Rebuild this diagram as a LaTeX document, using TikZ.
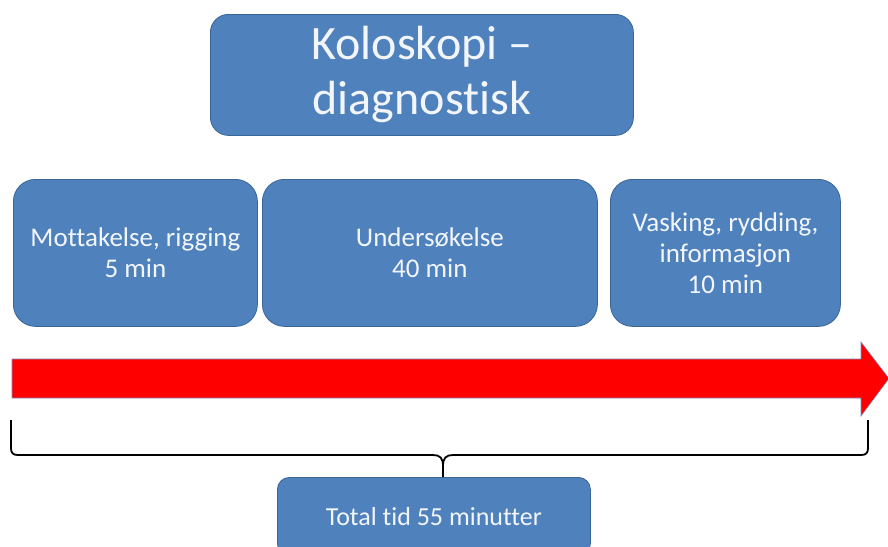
\documentclass[tikz,border=0pt]{standalone}
\usepackage{fontspec}
\setmainfont{Carlito}[Ligatures=NoCommon]
\definecolor{boxfill}{HTML}{4F81BD}
\definecolor{boxline}{HTML}{3A6696}
\definecolor{boxtext}{HTML}{F2F6FB}
\definecolor{arrowline}{HTML}{7E8CB8}
\begin{document}
\begin{tikzpicture}[x=1pt,y=-1pt,
  bluebox/.style={draw=boxline, line width=0.8pt, fill=boxfill, text=boxtext,
    rounded corners=22pt, anchor=north west, align=center, inner sep=0pt},
  brace/.style={draw=black, line width=1.8pt},
  redarrow/.style={fill=red, draw=arrowline, line width=0.6pt, line join=miter}]
\useasboundingbox (0,0) rectangle (888,546);
\clip (0,0) rectangle (888,546);
\node[bluebox, rounded corners=18pt, minimum width=423pt, minimum height=121pt,
  font=\fontsize{48}{55}\selectfont] (title) at (210,14) {Koloskopi –\\diagnostisk};
\node[bluebox, minimum width=244pt, minimum height=147pt,
  font=\fontsize{27}{31}\selectfont] (b1) at (13,179) {Mottakelse, rigging\\5 min};
\node[bluebox, minimum width=335pt, minimum height=147pt,
  font=\fontsize{27}{31}\selectfont] (b2) at (262,179) {Undersøkelse\\40 min};
\node[bluebox, minimum width=230pt, minimum height=147pt,
  font=\fontsize{27}{31}\selectfont] (b3) at (610,179) {Vasking, rydding,\\informasjon\\10 min};
\node[bluebox, rounded corners=12pt, minimum width=313pt, minimum height=78pt,
  font=\fontsize{26}{30}\selectfont] (total) at (277,477) {Total tid 55 minutter};
\draw[redarrow] (12,359) -- (861,359) -- (861,342) -- (889,378.5) -- (861,416) -- (861,398) -- (12,398) -- cycle;
\coordinate (bl) at (11,420);
\coordinate (br) at (868,420);
\coordinate (bm) at (443,477);
\draw[brace] (bl) -- (11,448) .. controls (11,453) and (13,455) .. (18,455)
  -- (433,455) .. controls (440,455) and (443,458) .. (443,466) -- (bm);
\draw[brace] (br) -- (868,448) .. controls (868,453) and (866,455) .. (861,455)
  -- (453,455) .. controls (446,455) and (443,458) .. (443,466);
\end{tikzpicture}
\end{document}
